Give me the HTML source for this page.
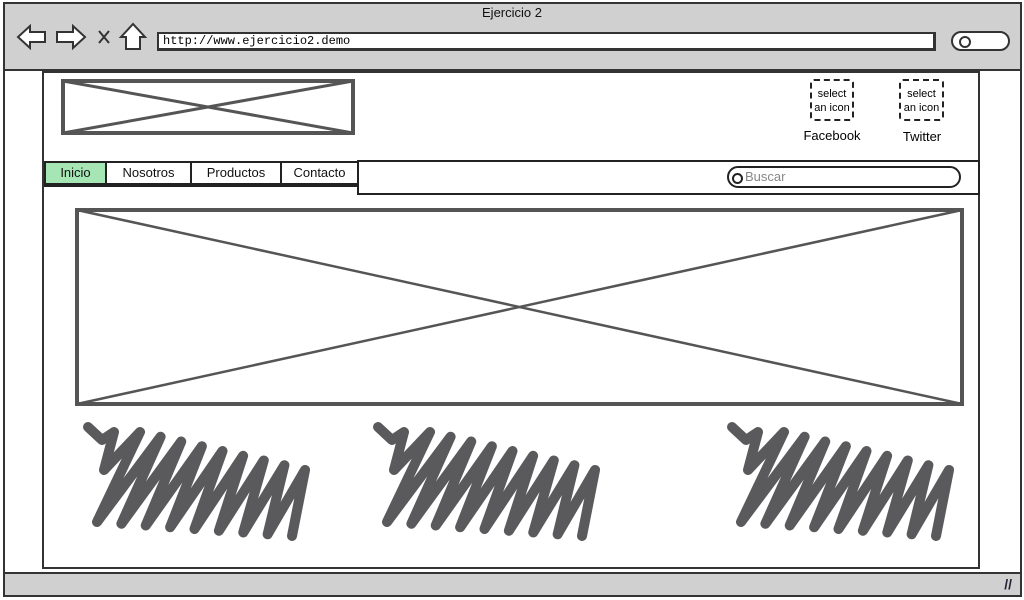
<!DOCTYPE html>
<html><head><meta charset="utf-8"><style>
body{margin:0;width:1024px;height:600px;background:#fff;overflow:hidden;position:relative;font-family:"Comic Sans MS","Liberation Sans",sans-serif;}
div{box-sizing:border-box;position:absolute;}
.tab{top:161px;height:26px;border:2px solid #222;border-bottom:4px solid #222;background:#fff;font-size:13px;text-align:center;line-height:20px;color:#111;}
</style></head><body>
<div style="left:3px;top:2px;width:1019px;height:595px;border:2px solid #333;background:#fff"></div>
<div style="left:3px;top:2px;width:1019px;height:69px;border:2px solid #333;background:#d0d0d0"></div>
<div style="left:0;top:5px;width:1024px;text-align:center;font-size:13px;color:#111">Ejercicio 2</div>
<svg style="position:absolute;left:0;top:0" width="160" height="70">
<path d="M18 37 L30 26 L30 32 L45 32 L45 42 L30 42 L30 48 Z" fill="#fff" stroke="#333" stroke-width="2"/>
<path d="M85 37 L73 26 L73 32 L57 32 L57 42 L73 42 L73 48 Z" fill="#fff" stroke="#333" stroke-width="2"/>
<path d="M99 31 L109 43 M109 31 L99 43" stroke="#333" stroke-width="2"/>
<path d="M133 24 L121 37 L126 37 L126 49 L140 49 L140 37 L145 37 Z" fill="#fff" stroke="#333" stroke-width="2"/>
</svg>
<div style="left:157px;top:32px;width:779px;height:19px;border:2px solid #333;border-right-width:3px;border-bottom-width:3px;background:#fff;font-family:'Liberation Mono',monospace;font-size:12px;line-height:14px;padding-left:4px">http://www.ejercicio2.demo</div>
<div style="left:951px;top:31px;width:59px;height:20px;border:2px solid #333;border-radius:10px;background:#fff"><span style="position:absolute;left:6px;top:3px;width:8px;height:8px;border:2px solid #333;border-radius:50%"></span></div>
<div style="left:42px;top:71px;width:938px;height:498px;border:2px solid #333;background:#fff"></div>
<svg style="position:absolute;left:60px;top:78px" width="296" height="58"><rect x="3" y="3" width="290" height="52" fill="#fff" stroke="#555" stroke-width="4"/><path d="M3 3L293 55M3 55L293 3" stroke="#555" stroke-width="3"/></svg>
<div style="left:810px;top:79px;width:44px;height:42px;border:2px dashed #222;border-radius:4px;font-size:11px;text-align:center;line-height:14px;padding-top:6px">select<br>an icon</div>
<div style="left:795px;top:128px;width:74px;text-align:center;font-size:13px">Facebook</div>
<div style="left:899px;top:79px;width:45px;height:42px;border:2px dashed #222;border-radius:4px;font-size:11px;text-align:center;line-height:14px;padding-top:6px">select<br>an icon</div>
<div style="left:885px;top:129px;width:74px;text-align:center;font-size:13px">Twitter</div>
<div style="left:357px;top:160px;width:623px;height:35px;border:2px solid #222"></div>
<div class="tab" style="left:44px;width:63px;background:#a6e6b4">Inicio</div>
<div class="tab" style="left:105px;width:87px">Nosotros</div>
<div class="tab" style="left:190px;width:92px">Productos</div>
<div class="tab" style="left:280px;width:79px">Contacto</div>
<div style="left:727px;top:166px;width:234px;height:22px;border:2px solid #222;border-radius:11px;font-size:13px;color:#888;padding-left:16px;line-height:17px">Buscar<span style="position:absolute;left:3px;top:5px;width:7px;height:7px;border:2px solid #222;border-radius:50%"></span></div>
<svg style="position:absolute;left:74px;top:207px" width="892" height="200"><rect x="3" y="3" width="885" height="194" fill="#fff" stroke="#555" stroke-width="4"/><path d="M3 3L888 197M3 197L888 3" stroke="#555" stroke-width="2.5"/></svg>
<svg id="scr" style="position:absolute;left:0;top:0" width="1024" height="600"></svg>
<div style="left:3px;top:572px;width:1019px;height:25px;border:2px solid #333;background:#d0d0d0"><span style="position:absolute;right:8px;top:2px;font-size:14px;color:#223;font-weight:bold">//</span></div>
<script>
const svg=document.getElementById('scr');
function scrib(x0,name){
 let pts=[[x0+6,427],[x0+20,440],[x0+32,432],[x0+22,470]];const n=9;
 for(let i=0;i<n;i++){
  const t=i/(n-1);
  pts.push([x0+58+t*165, 432+t*38]);
  pts.push([x0+15+t*195, 522+t*14]);
 }
 const p=document.createElementNS('http://www.w3.org/2000/svg','polyline');
 p.setAttribute('points',pts.map(a=>a.join(',')).join(' '));
 p.setAttribute('fill','none');p.setAttribute('stroke','#5a5a5c');
 p.setAttribute('stroke-width','10');p.setAttribute('stroke-linecap','round');p.setAttribute('stroke-linejoin','round');
 
 
 svg.appendChild(p);
}
scrib(82,'text-block-1');scrib(372,'text-block-2');scrib(726,'text-block-3');
</script>
</body></html>
